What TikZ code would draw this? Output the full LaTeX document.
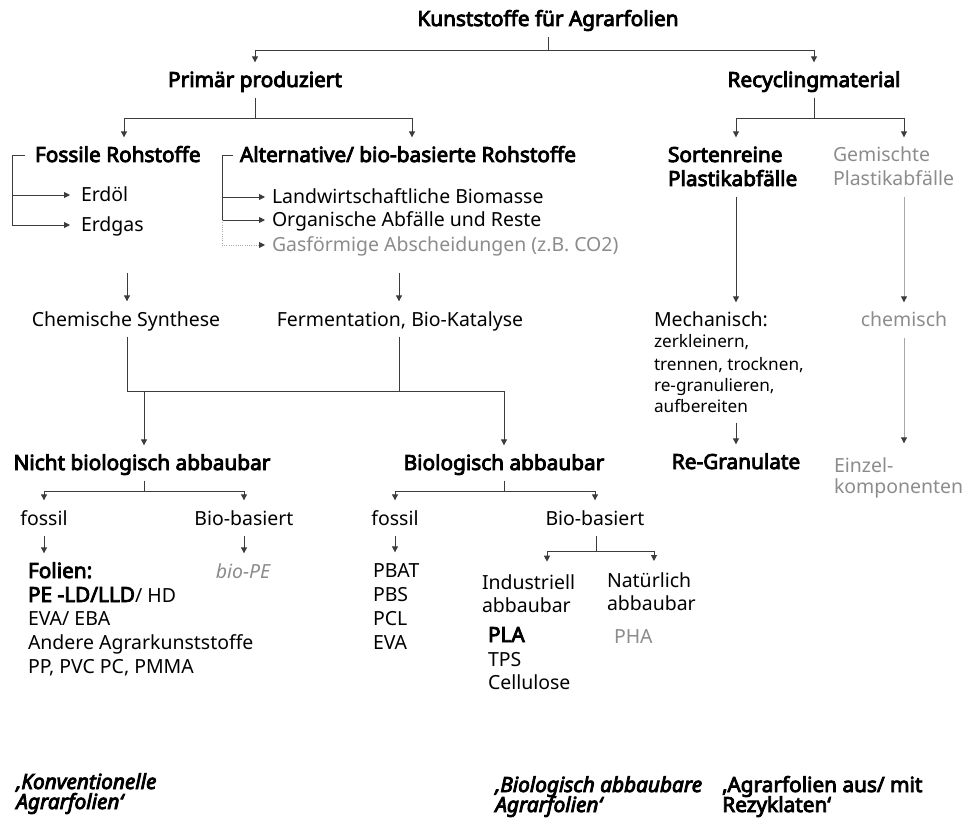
\documentclass[tikz,border=0pt]{standalone}
\usepackage{fontspec}
\setmainfont{Noto Sans}
\newfontfamily\boldfont{Noto Sans}[FakeBold=4]
\newfontfamily\capfont{Noto Sans}[FakeBold=4]
\usetikzlibrary{arrows.meta}
\definecolor{tgray}{HTML}{8C8C8C}
\definecolor{lgray}{HTML}{A8A8A8}
\definecolor{ldark}{HTML}{3C3C3C}
\newcommand{\fmain}{\fontsize{14.6}{18}\selectfont}
\newcommand{\fsmall}{\fontsize{12.9}{16}\selectfont}
\newcommand{\fbold}{\boldfont\fontsize{15.6}{18}\selectfont}
\begin{document}
\begin{tikzpicture}[x=0.75pt,y=-0.75pt,
  txt/.style={inner sep=0pt, outer sep=0pt, text height=10.5pt, text depth=0pt, font=\fmain, text=black},
  tc/.style={txt, anchor=base},
  tw/.style={txt, anchor=base west},
  bf/.style={font=\fbold},
  sm/.style={font=\fsmall},
  gr/.style={text=tgray},
  ln/.style={draw=ldark, line width=0.7pt},
  arr/.style={ln, -{Triangle[length=4.5pt,width=4.5pt]}, shorten >=8pt},
  arrh/.style={ln, -{Triangle[length=4.5pt,width=4.5pt]}},
  lng/.style={draw=lgray, line width=0.7pt},
  arrg/.style={lng, -{Triangle[length=4.5pt,width=4.5pt,color=ldark]}, shorten >=8pt},
  capt/.style={inner sep=0pt, anchor=base west, font=\capfont\fontsize{15.6}{18}\selectfont},
  capti/.style={capt, font=\capfont\fontsize{15.6}{18}\selectfont\itshape}
]
\fill[white] (0,0) rectangle (965,820);
\useasboundingbox (0,0) rectangle (965,820);

% ---------- nodes ----------
\node[tc,bf] (title) at (548,26) {Kunststoffe für Agrarfolien};
\node[tc,bf] (prim) at (255,87) {Primär produziert};
\node[tc,bf] (recy) at (814,87) {Recyclingmaterial};

\node[tw,bf] (fossil) at (35,162) {Fossile Rohstoffe};
\node[tw,bf] (alt) at (240,162) {Alternative/ bio-basierte Rohstoffe};
\node[tw] (erdoel) at (81,202) {Erdöl};
\node[tw] (erdgas) at (81,232) {Erdgas};
\node[tw] (landw) at (272,204) {Landwirtschaftliche Biomasse};
\node[tw] (organ) at (272,227) {Organische Abfälle und Reste};
\node[tw,gr] (gas) at (272,252) {Gasförmige Abscheidungen (z.B. CO2)};

\node[tw,bf] (sort1) at (668,162) {Sortenreine};
\node[tw,bf] (sort2) at (668,186) {Plastikabfälle};
\node[tw,gr] (gem1) at (833,162) {Gemischte};
\node[tw,gr] (gem2) at (833,186) {Plastikabfälle};

\node[tc] (chem) at (126,326) {Chemische Synthese};
\node[tc] (ferm) at (400,326) {Fermentation, Bio-Katalyse};
\node[tw] (mech) at (654,327) {Mechanisch:};
\node[tw,sm] (mech1) at (654,348) {zerkleinern,};
\node[tw,sm] (mech2) at (654,370) {trennen, trocknen,};
\node[tw,sm] (mech3) at (654,391.5) {re-granulieren,};
\node[tw,sm] (mech4) at (654,412) {aufbereiten};
\node[tc,gr] (chemg) at (904,327) {chemisch};

\node[tc,bf] (nicht) at (142,470) {Nicht biologisch abbaubar};
\node[tc,bf] (bio) at (504,470) {Biologisch abbaubar};
\node[tc,bf] (regran) at (736,469) {Re-Granulate};
\node[tw,gr] (einz1) at (834,472) {Einzel-};
\node[tw,gr] (einz2) at (834,493.5) {komponenten};

\node[tc] (fos1) at (44,525) {fossil};
\node[tc] (bb1) at (244,525) {Bio-basiert};
\node[tc] (fos2) at (395,525) {fossil};
\node[tc] (bb2) at (595,525) {Bio-basiert};

\node[tw,bf] (folien) at (28,578) {Folien:};
\node[tw] (pe) at (28,602) {{\fbold PE -LD/LLD}/ HD};
\node[tw] (eva1) at (28,625) {EVA/ EBA};
\node[tw] (andere) at (28,649.5) {Andere Agrarkunststoffe};
\node[tw] (pp) at (28,673) {PP, PVC PC, PMMA};
\node[tc,gr,font=\fmain\itshape] (biope) at (243,578) {bio-PE};

\node[tw] (pbat) at (373,577) {PBAT};
\node[tw] (pbs) at (373,601.5) {PBS};
\node[tw] (pcl) at (373,625) {PCL};
\node[tw] (eva2) at (373,649.5) {EVA};

\node[tw] (ind1) at (482,589) {Industriell};
\node[tw] (ind2) at (482,612) {abbaubar};
\node[tw] (nat1) at (607,587) {Natürlich};
\node[tw] (nat2) at (607,610) {abbaubar};
\node[tw,bf] (pla) at (488,642) {PLA};
\node[tw] (tps) at (488,666) {TPS};
\node[tw] (cell) at (488,689) {Cellulose};
\node[tw,gr] (pha) at (614,643) {PHA};

\node[capti] (k1) at (16,789) {‚Konventionelle};
\node[capti] (k2) at (16,809) {Agrarfolien‘};
\node[capti] (b1) at (495,792) {‚Biologisch abbaubare};
\node[capti] (b2) at (495,812) {Agrarfolien‘};
\node[capt] (r1) at (722,792) {‚Agrarfolien aus/ mit};
\node[capt] (r2) at (722,812) {Rezyklaten‘};

% ---------- connectors ----------
\coordinate (j0) at (549,50);
\draw[ln, shorten <=8pt] (title.south) -- (title.south |- j0);
\draw[arr] (j0) -| (prim.north);
\draw[arr] (j0) -| (recy.north);

\coordinate (j1) at (256,118);
\draw[ln, shorten <=8pt] (prim.south) -- (prim.south |- j1);
\draw[arr] (j1) -| (124,0 |- fossil.north);
\draw[arr] (j1) -| (412,0 |- alt.north);

\coordinate (j2) at (815,118);
\draw[ln, shorten <=8pt] (recy.south) -- (recy.south |- j2);
\draw[arr] (j2) -| (736,0 |- sort1.north);
\draw[arr] (j2) -| (904,0 |- gem1.north);

% fossil bracket
\draw[ln] ([xshift=-7.5pt]fossil.west) -- (12,0 |- fossil.west) -- (12,0 |- erdgas.west);
\draw[arrh] (12,0 |- erdoel.west) -- ([xshift=-8.25pt]erdoel.west);
\draw[arrh] (12,0 |- erdgas.west) -- ([xshift=-8.25pt]erdgas.west);

% alternative bracket
\draw[ln] ([xshift=-5.25pt]alt.west) -- (222,0 |- alt.west) -- (222,0 |- organ.west);
\draw[arrh] (222,0 |- landw.west) -- ([xshift=-5.25pt]landw.west);
\draw[arrh] (222,0 |- organ.west) -- ([xshift=-5.25pt]organ.west);
\draw[lng, densely dotted, -{Triangle[length=4.5pt,width=4.5pt,color=ldark]}] (222,0 |- organ.west) -- (222,0 |- gas.west) -- ([xshift=-5.25pt]gas.west);

% to syntheses
\coordinate (s1) at (127,273);
\coordinate (s2) at (399,273);
\draw[arr] (s1) -- (s1 |- chem.north);
\draw[arr] (s2) -- (s2 |- ferm.north);

% merge
\coordinate (m1) at (127,391);
\coordinate (m2) at (399,391);
\draw[ln, shorten <=8pt] (s1 |- chem.south) -- (m1) -- (m2);
\draw[ln, shorten <=8pt] (s2 |- ferm.south) -- (m2);
\draw[arr] (144,391) -- (144,0 |- nicht.north);
\draw[arr] (m2) -| (bio.north);

% Nicht biologisch abbaubar
\coordinate (n1) at (144,491);
\draw[ln, shorten <=8pt] (n1 |- nicht.south) -- (n1);
\draw[arr] (n1) -| (fos1.north);
\draw[arr] (n1) -| (bb1.north);
\draw[arr, shorten <=8pt] (fos1.south) -- (fos1.south |- folien.north);
\draw[arr, shorten <=8pt] (bb1.south) -- (bb1.south |- biope.north);

% Biologisch abbaubar
\coordinate (n2) at (504,491);
\draw[ln, shorten <=8pt] (bio.south) -- (n2);
\draw[arr] (n2) -| (fos2.north);
\draw[arr] (n2) -| (bb2.north);
\draw[arr, shorten <=8pt] (fos2.south) -- (fos2.south |- pbat.north);

\coordinate (n3) at (596,551);
\draw[ln, shorten <=8pt] (n3 |- bb2.south) -- (n3);
\draw[arr, shorten >=10pt] (n3) -| (547,0 |- ind1.north);
\draw[arr, shorten >=9pt] (n3) -| (654,0 |- nat1.north);

% Recycling branch
\draw[arr, shorten <=8pt] (736,0 |- sort2.south) -- (736,0 |- mech.north);
\draw[arr, shorten <=8pt] (736,0 |- mech4.south) -- (736,0 |- regran.north);
\draw[arrg, shorten <=8pt] (904,0 |- gem2.south) -- (chemg.north);
\draw[arrg, shorten <=8pt, shorten >=11pt] (chemg.south) -- (chemg.south |- einz1.north);
\end{tikzpicture}
\end{document}
